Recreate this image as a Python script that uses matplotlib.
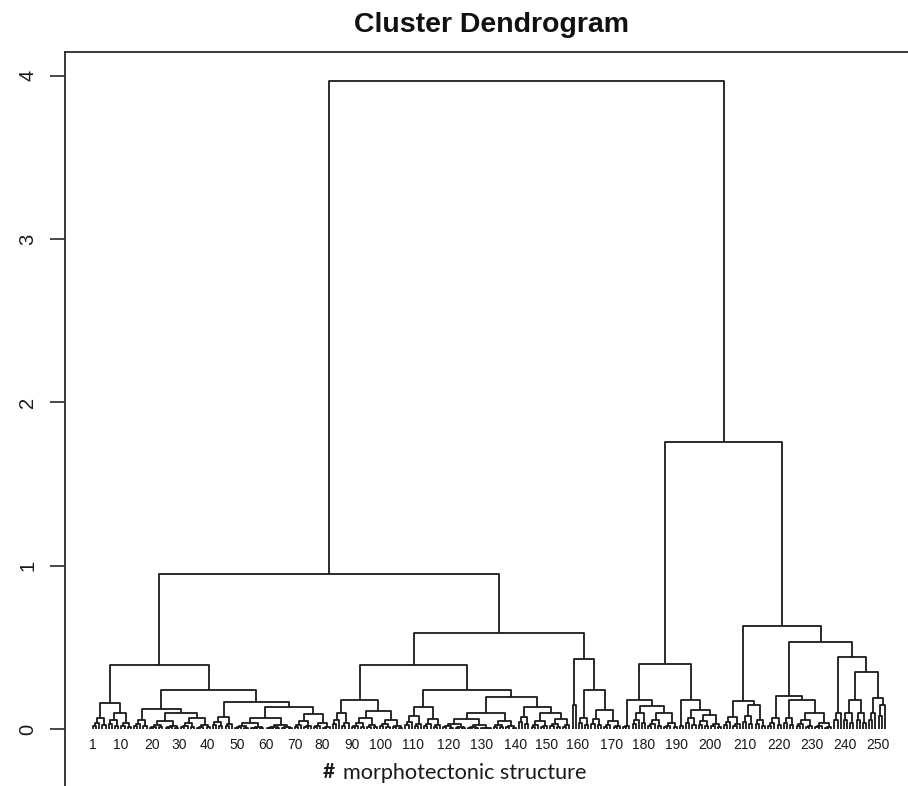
import matplotlib
matplotlib.use("Agg")
import matplotlib.pyplot as plt
from matplotlib.collections import LineCollection

# ---------------- data ----------------
# bottom-level clusters, left to right: number of leaves and merge height
group_sizes = [5, 8, 5, 10, 10, 7, 19, 12, 6, 9, 8, 6, 6, 16, 8, 4, 6, 7, 2,
               4, 4, 6, 3, 5, 10, 2, 4, 8, 6, 8, 5, 4, 12, 3, 4, 4, 3, 3]
group_heights = [0.07, 0.10, 0.055, 0.05, 0.07, 0.075, 0.07, 0.09, 0.10, 0.065,
                 0.055, 0.08, 0.06, 0.06, 0.05, 0.075, 0.05, 0.06, 0.145, 0.07,
                 0.06, 0.05, 0.02, 0.10, 0.10, 0.02, 0.065, 0.085, 0.075, 0.145,
                 0.07, 0.07, 0.10, 0.10, 0.10, 0.10, 0.10, 0.145]
sub_ratios = (0.55, 0.38)   # relative heights of nested merges inside a bottom cluster

# upper merges: name, left child, right child, height
merge_names = ["LA1", "LA2a2", "LA2a", "LA2b2", "LA2b", "LA2", "LA",
               "LB1a2", "LB1a", "LB1b1", "LB1b2a", "LB1b2b2", "LB1b2b", "LB1b2",
               "LB1b", "LB1", "LB2b2", "LB2b", "LB2", "LB", "L",
               "RA1b", "RA1", "RA2b", "RA2", "RA", "RB1", "RB2a2", "RB2a",
               "RB2b2a", "RB2b2b", "RB2b2", "RB2b", "RB2", "RB", "R", "root"]
merge_left = ["g0", "g3", "g2", "g6", "g5", "LA2a", "LA1",
              "g9", "g8", "g11", "g13", "g16", "g15", "LB1b2a",
              "LB1b1", "LB1a", "g20", "g19", "g18", "LB1", "LA",
              "g23", "g22", "g26", "g25", "RA1", "g28", "g31", "g30",
              "g34", "g36", "RB2b2a", "g33", "RB2a", "RB1", "RA", "L"]
merge_right = ["g1", "g4", "LA2a2", "g7", "LA2b2", "LA2b", "LA2",
               "g10", "LB1a2", "g12", "g14", "g17", "LB1b2b2", "LB1b2b",
               "LB1b2", "LB1b", "g21", "LB2b2", "LB2b", "LB2", "LB",
               "g24", "RA1b", "g27", "RA2b", "RA2", "g29", "g32", "RB2a2",
               "g35", "g37", "RB2b2b", "RB2b2", "RB2b", "RB2", "RB", "R"]
merge_heights = [0.16, 0.10, 0.12, 0.135, 0.165, 0.24, 0.39,
                 0.11, 0.18, 0.135, 0.10, 0.10, 0.135, 0.195,
                 0.24, 0.39, 0.115, 0.24, 0.43, 0.59, 0.95,
                 0.14, 0.18, 0.115, 0.18, 0.40, 0.17, 0.18, 0.20,
                 0.18, 0.19, 0.35, 0.44, 0.53, 0.63, 1.76, 3.97]

# x-axis labels and where they sit (in leaf-order units)
tick_labels = ["1", "10", "20", "30", "40", "50", "60", "70", "80", "90", "100",
               "110", "120", "130", "140", "150", "160", "170", "180", "190",
               "200", "210", "220", "230", "240", "250"]
tick_positions = [1.0, 9.9, 19.7, 28.3, 37.1, 46.6, 55.8, 65.0, 73.6, 83.1, 92.0,
                  102.4, 113.8, 124.0, 134.8, 144.9, 154.7, 165.5, 175.6, 185.8,
                  196.6, 207.7, 218.4, 228.9, 239.4, 249.8]
y_ticks = [0, 1, 2, 3, 4]

# ---------------- tree construction ----------------
def group_tree(n, h):
    if n == 1:
        return {"h": 0.0, "kids": None}
    n1 = (n + 1) // 2
    n2 = n - n1
    left = group_tree(n1, h * sub_ratios[0]) if n1 > 1 else {"h": 0.0, "kids": None}
    right = group_tree(n2, h * sub_ratios[1]) if n2 > 1 else {"h": 0.0, "kids": None}
    return {"h": h, "kids": (left, right)}

nodes = {}
for i, (n, h) in enumerate(zip(group_sizes, group_heights)):
    nodes["g%d" % i] = group_tree(n, h)
for nm, a, b, h in zip(merge_names, merge_left, merge_right, merge_heights):
    nodes[nm] = {"h": h, "kids": (nodes[a], nodes[b])}
root = nodes["root"]

segments = []
counter = [0]

def layout(node):
    if node["kids"] is None:
        counter[0] += 1
        return float(counter[0])
    xl = layout(node["kids"][0])
    xr = layout(node["kids"][1])
    hl = node["kids"][0]["h"]
    hr = node["kids"][1]["h"]
    h = node["h"]
    segments.append([(xl, hl), (xl, h), (xr, h), (xr, hr)])
    return (xl + xr) / 2.0

layout(root)

# ---------------- figure ----------------
W, H = 908, 786
fig = plt.figure(figsize=(W / 100, H / 100), dpi=100)
fig.patch.set_facecolor("white")

ax_l, ax_t, ax_b, ax_r = 65, 52, 830, 908
ax = fig.add_axes([ax_l / W, 1 - ax_b / H, (ax_r - ax_l) / W, (ax_b - ax_t) / H])

y0_px, ppu = 729.0, 163.3
leaf1_px, leaf_step = 93.0, 3.155
ax.set_ylim((y0_px - ax_b) / ppu, (y0_px - ax_t) / ppu)
ax.set_xlim(1 - (leaf1_px - ax_l) / leaf_step, 1 + (ax_r - leaf1_px) / leaf_step)

lc = LineCollection(segments, colors="#1a1a1a", linewidths=1.3)
ax.add_collection(lc)

for s in ["right", "bottom"]:
    ax.spines[s].set_visible(False)
for s in ["left", "top"]:
    ax.spines[s].set_linewidth(1.3)
    ax.spines[s].set_color("#2a2a2a")

ax.set_xticks([])
ax.set_yticks(y_ticks)
ax.set_yticklabels([str(v) for v in y_ticks], family="Liberation Sans", fontsize=14.5)
ax.tick_params(axis="y", length=11, width=1.2, color="#2a2a2a", pad=9,
               labelrotation=90, labelcolor="#1a1a1a")
for lab in ax.get_yticklabels():
    lab.set_verticalalignment("center")

for pos, lab in zip(tick_positions, tick_labels):
    ax.text(pos, (y0_px - 745) / ppu, lab, ha="center", va="center",
            fontsize=10, family="Liberation Sans", color="#1a1a1a", clip_on=False)

title = fig.text(492 / W, 1 - 25 / H, "Cluster Dendrogram", ha="center", va="center",
                 fontsize=20.5, fontweight="bold", family="Liberation Sans",
                 color="#111111")

hash_t = fig.text(329 / W, 1 - 772 / H, "#", ha="center", va="center",
                  fontsize=15, fontweight="bold", family="Lato", color="#1a1a1a")
xl_t = fig.text(343 / W, 1 - 773 / H, "morphotectonic structure", ha="left",
                va="center", fontsize=15, family="Lato", color="#1a1a1a")
fig.canvas.draw()
r = fig.canvas.get_renderer()
w = xl_t.get_window_extent(r).width
xl_t.set_fontsize(15 * 245.0 / w)

fig.savefig("out.png", dpi=100)
